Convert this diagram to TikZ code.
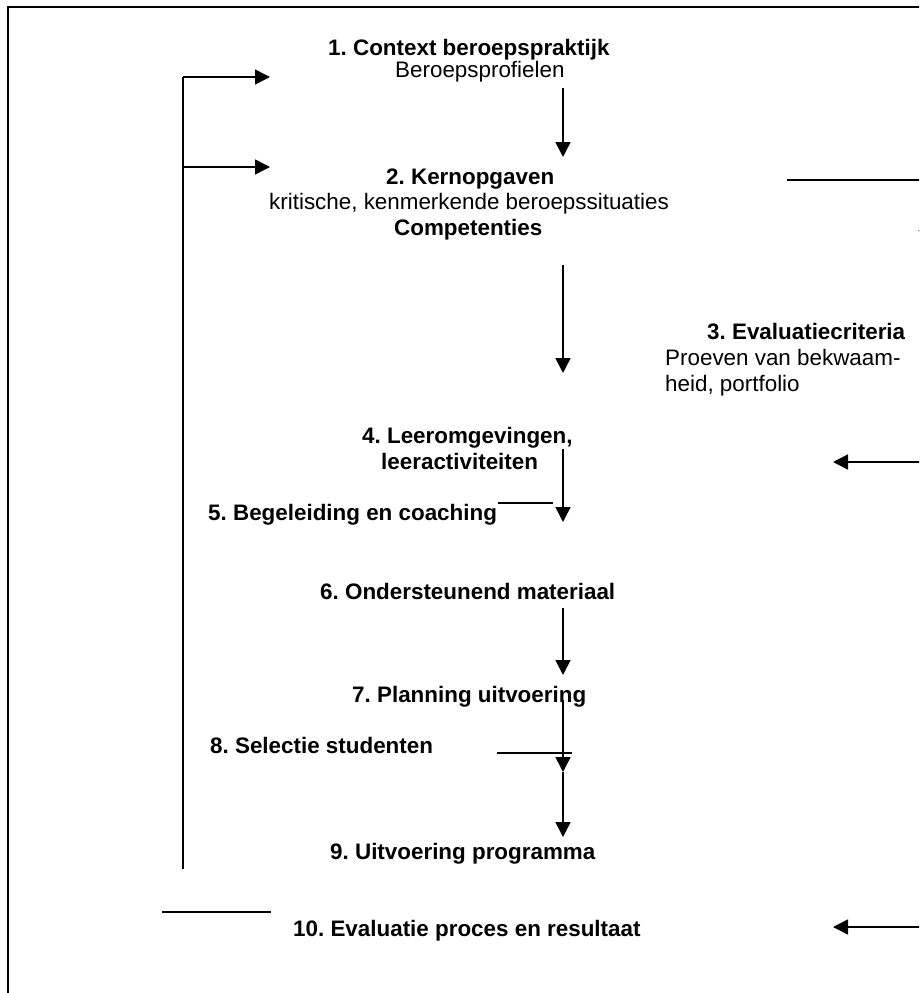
\documentclass[tikz,border=0pt]{standalone}
\usepackage{fontspec}
\setmainfont{Liberation Sans}
\usetikzlibrary{arrows.meta}
\begin{document}
\frenchspacing
\begin{tikzpicture}[x=1pt,y=-1pt,
  lbl/.style={inner sep=0pt, anchor=base west, font=\fontsize{22.4}{26}\selectfont},
  blbl/.style={inner sep=0pt, anchor=base west, font=\fontsize{22.4}{26}\selectfont\bfseries},
  conn/.style={line width=1.5pt, -{Triangle[length=15pt,width=15pt]}},
  plain/.style={line width=1.5pt},
  frame/.style={line width=2.2pt}]
\useasboundingbox (0,0) rectangle (919,993);
\clip (0,0) rectangle (919,993);
% frame
\coordinate (fb) at (8,1005);
\coordinate (ftl) at (8,7);
\coordinate (ftr) at (935,7);
\draw[frame] (fb) -- (ftl) -- (ftr);
% texts
\node[blbl] (t1)  at (328,55)  {1. Context beroepspraktijk};
\node[lbl]  (t1b) at (395,77)  {Beroepsprofielen};
\node[blbl] (t2)  at (386,184) {2. Kernopgaven};
\node[lbl]  (t2b) at (269,209) {kritische, kenmerkende beroepssituaties};
\node[blbl] (t2c) at (394,235) {Competenties};
\node[blbl] (t3)  at (707,339) {3. Evaluatiecriteria};
\node[lbl]  (t3b) at (665,365) {Proeven van bekwaam-};
\node[lbl]  (t3c) at (665,391) {heid, portfolio};
\node[blbl] (t4)  at (362,443) {4. Leeromgevingen,};
\node[blbl] (t4b) at (381,469) {leeractiviteiten};
\node[blbl] (t5)  at (208,520) {5. Begeleiding en coaching};
\node[blbl] (t6)  at (320,599) {6. Ondersteunend materiaal};
\node[blbl] (t7)  at (352,702) {7. Planning uitvoering};
\node[blbl] (t8)  at (210,753) {8. Selectie studenten};
\node[blbl] (t9)  at (330,859) {9. Uitvoering programma};
\node[blbl] (t10) at (293,936) {10. Evaluatie proces en resultaat};
% connector coordinates
\coordinate (fbTop) at (183,77);
\coordinate (fbMid) at (183,167);
\coordinate (fbBot) at (183,869);
\coordinate (a1) at (270,77);
\coordinate (a2) at (270,167);
\coordinate (l10a) at (162,912);
\coordinate (l10b) at (271,912);
\coordinate (c12a) at (563,88);
\coordinate (c12b) at (563,157);
\coordinate (r3a) at (787,180);
\coordinate (r3b) at (926,180);
\coordinate (r3c) at (926,245);
\coordinate (c24a) at (563,265);
\coordinate (c24b) at (563,373);
\coordinate (r4a) at (935,462);
\coordinate (r4b) at (833,462);
\coordinate (c45a) at (563,449);
\coordinate (c45b) at (563,522);
\coordinate (l5a) at (498,503);
\coordinate (l5b) at (553,503);
\coordinate (c67a) at (563,608);
\coordinate (c67b) at (563,675);
\coordinate (c79a) at (563,700);
\coordinate (c79m) at (563,772);
\coordinate (c79b) at (563,837);
\coordinate (l8a) at (497,753);
\coordinate (l8b) at (572,753);
\coordinate (r10a) at (935,927);
\coordinate (r10b) at (833,927);
% connectors
\draw[plain] (fbBot) -- (fbTop);
\draw[conn] (fbTop) -- (a1);
\draw[conn] (fbMid) -- (a2);
\draw[plain] (l10a) -- (l10b);
\draw[conn] (c12a) -- (c12b);
\draw[plain] (r3a) -- (r3b);
\draw[conn] (r3b) -- (r3c);
\draw[conn] (c24a) -- (c24b);
\draw[conn] (r4a) -- (r4b);
\draw[conn] (c45a) -- (c45b);
\draw[plain] (l5a) -- (l5b);
\draw[conn] (c67a) -- (c67b);
\draw[conn] (c79a) -- (c79m);
\draw[conn] (c79m) -- (c79b);
\draw[plain] (l8a) -- (l8b);
\draw[conn] (r10a) -- (r10b);
\end{tikzpicture}
\end{document}
